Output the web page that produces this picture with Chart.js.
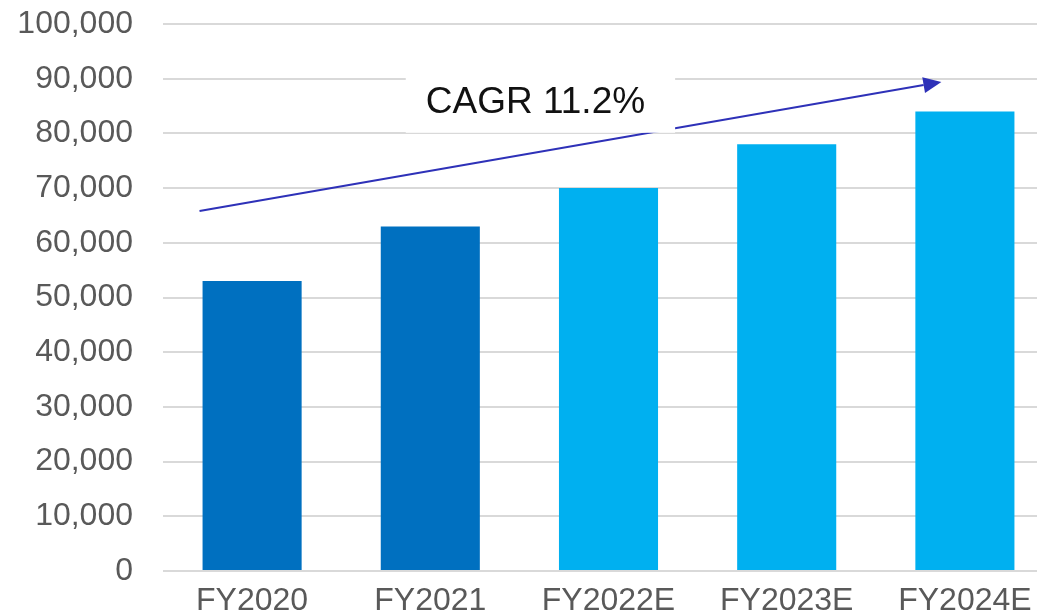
<!DOCTYPE html>
<html>
<head>
<meta charset="utf-8">
<script src="https://cdn.jsdelivr.net/npm/chart.js@4/dist/chart.umd.min.js"></script>
<style>
  html, body { margin: 0; padding: 0; background: #ffffff; overflow: hidden; }
  #wrap { width: 1054px; height: 611px; position: relative; }
</style>
</head>
<body>
<div id="wrap"><canvas id="c"></canvas></div>
<script>
// ---- data ----
const categories = ["FY2020", "FY2021", "FY2022E", "FY2023E", "FY2024E"];
const values = [53000, 63000, 70000, 78000, 84000];
const barColors = ["#0070C0", "#0070C0", "#00B0F0", "#00B0F0", "#00B0F0"];
const yTicks = [0, 10000, 20000, 30000, 40000, 50000, 60000, 70000, 80000, 90000, 100000];
// CAGR annotation (category index, value)
const cagrLabel = "CAGR 11.2%";
const arrowStart = [-0.295, 65800];
const arrowEnd = [3.868, 89400];
const labelAt = [1.59, 85600];

const fontFamily = "'Liberation Sans', Arial, Helvetica, sans-serif";

const cagrPlugin = {
  id: 'cagr',
  afterDatasetsDraw(chart) {
    const { ctx, scales: { x, y } } = chart;
    const x1 = x.getPixelForValue(arrowStart[0]), y1 = y.getPixelForValue(arrowStart[1]);
    const x2 = x.getPixelForValue(arrowEnd[0]), y2 = y.getPixelForValue(arrowEnd[1]);
    const ang = Math.atan2(y2 - y1, x2 - x1);
    const headLen = 18, headW = 8;
    ctx.save();
    ctx.strokeStyle = '#2E31B8';
    ctx.fillStyle = '#2E31B8';
    ctx.lineWidth = 2;
    ctx.beginPath();
    ctx.moveTo(x1, y1);
    ctx.lineTo(x2 - headLen * Math.cos(ang), y2 - headLen * Math.sin(ang));
    ctx.stroke();
    ctx.beginPath();
    ctx.moveTo(x2, y2);
    ctx.lineTo(x2 - headLen * Math.cos(ang) + headW * Math.sin(ang), y2 - headLen * Math.sin(ang) - headW * Math.cos(ang));
    ctx.lineTo(x2 - headLen * Math.cos(ang) - headW * Math.sin(ang), y2 - headLen * Math.sin(ang) + headW * Math.cos(ang));
    ctx.closePath();
    ctx.fill();

    // label box
    const lx = x.getPixelForValue(labelAt[0]), ly = y.getPixelForValue(labelAt[1]);
    ctx.font = "37px " + fontFamily;
    const tw = ctx.measureText(cagrLabel).width;
    const bw = tw + 50, bh = 60;
    ctx.fillStyle = '#ffffff';
    ctx.fillRect(lx - bw / 2 + 5, ly - bh / 2, bw, bh);
    ctx.fillStyle = '#111111';
    ctx.textAlign = 'center';
    ctx.textBaseline = 'middle';
    ctx.fillText(cagrLabel, lx, ly);
    ctx.restore();
  }
};

new Chart(document.getElementById('c'), {
  type: 'bar',
  data: {
    labels: categories,
    datasets: [{
      data: values,
      backgroundColor: barColors,
      borderWidth: 0,
      categoryPercentage: 1.0,
      barPercentage: 0.556
    }]
  },
  options: {
    responsive: true,
    maintainAspectRatio: false,
    animation: false,
    layout: { padding: { top: 24, right: 0, bottom: 0, left: 0 } },
    plugins: { legend: { display: false }, tooltip: { enabled: false } },
    scales: {
      x: {
        grid: { display: false },
        border: { display: false },
        ticks: { color: '#595959', font: { family: fontFamily, size: 32 }, padding: 3, maxRotation: 0 },
        afterFit(scale) { scale.height = 40; }
      },
      y: {
        min: 0, max: 100000,
        afterBuildTicks(scale) { scale.ticks = yTicks.map(v => ({ value: v })); },
        grid: { color: '#D9D9D9', lineWidth: 2, drawTicks: true, tickLength: 30, tickColor: 'rgba(0,0,0,0)' },
        border: { display: false },
        ticks: {
          color: '#595959',
          font: { family: fontFamily, size: 32, lineHeight: 0.2 },
          padding: 0,
          callback: v => v.toLocaleString('en-US')
        },
        afterFit(scale) { scale.width = 163; }
      }
    }
  },
  plugins: [cagrPlugin]
});
</script>
</body>
</html>
